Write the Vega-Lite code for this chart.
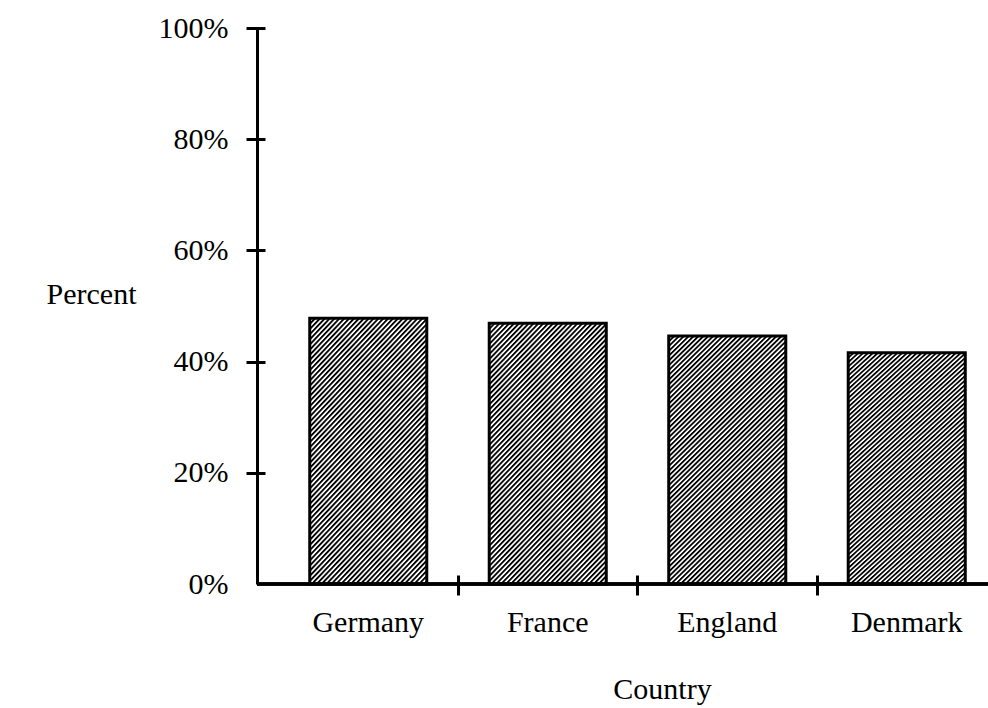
{
"$schema": "https://vega.github.io/schema/vega-lite/v6.json",
"width": 731,
"height": 556,
"autosize": {"type": "none"},
"padding": {"left": 257, "top": 28, "right": 0, "bottom": 124},
"background": "white",
"config": {"view": {"stroke": null}, "font": "Liberation Serif"},
"data": {"values": [
 {"country": "Germany", "percent": 47.8},
 {"country": "France", "percent": 46.9},
 {"country": "England", "percent": 44.6},
 {"country": "Denmark", "percent": 41.6}
]},
"layer": [
 {
  "mark": {"type": "bar", "stroke": "black", "strokeWidth": 3, "width": {"band": 0.652},
   "fill": {"gradient": "linear", "x1": 0, "y1": 0, "x2": 0.591, "y2": 1.273, "stops": [
{"offset":0,"color":"#000"},{"offset":0.003,"color":"#000"},{"offset":0.007,"color":"#fff"},{"offset":0.0095,"color":"#fff"},
{"offset":0.0125,"color":"#000"},{"offset":0.0155,"color":"#000"},{"offset":0.0195,"color":"#fff"},{"offset":0.022,"color":"#fff"},
{"offset":0.025,"color":"#000"},{"offset":0.028,"color":"#000"},{"offset":0.032,"color":"#fff"},{"offset":0.0345,"color":"#fff"},
{"offset":0.0375,"color":"#000"},{"offset":0.0405,"color":"#000"},{"offset":0.0445,"color":"#fff"},{"offset":0.047,"color":"#fff"},
{"offset":0.05,"color":"#000"},{"offset":0.053,"color":"#000"},{"offset":0.057,"color":"#fff"},{"offset":0.0595,"color":"#fff"},
{"offset":0.0625,"color":"#000"},{"offset":0.0655,"color":"#000"},{"offset":0.0695,"color":"#fff"},{"offset":0.072,"color":"#fff"},
{"offset":0.075,"color":"#000"},{"offset":0.078,"color":"#000"},{"offset":0.082,"color":"#fff"},{"offset":0.0845,"color":"#fff"},
{"offset":0.0875,"color":"#000"},{"offset":0.0905,"color":"#000"},{"offset":0.0945,"color":"#fff"},{"offset":0.097,"color":"#fff"},
{"offset":0.1,"color":"#000"},{"offset":0.103,"color":"#000"},{"offset":0.107,"color":"#fff"},{"offset":0.1095,"color":"#fff"},
{"offset":0.1125,"color":"#000"},{"offset":0.1155,"color":"#000"},{"offset":0.1195,"color":"#fff"},{"offset":0.122,"color":"#fff"},
{"offset":0.125,"color":"#000"},{"offset":0.128,"color":"#000"},{"offset":0.132,"color":"#fff"},{"offset":0.1345,"color":"#fff"},
{"offset":0.1375,"color":"#000"},{"offset":0.1405,"color":"#000"},{"offset":0.1445,"color":"#fff"},{"offset":0.147,"color":"#fff"},
{"offset":0.15,"color":"#000"},{"offset":0.153,"color":"#000"},{"offset":0.157,"color":"#fff"},{"offset":0.1595,"color":"#fff"},
{"offset":0.1625,"color":"#000"},{"offset":0.1655,"color":"#000"},{"offset":0.1695,"color":"#fff"},{"offset":0.172,"color":"#fff"},
{"offset":0.175,"color":"#000"},{"offset":0.178,"color":"#000"},{"offset":0.182,"color":"#fff"},{"offset":0.1845,"color":"#fff"},
{"offset":0.1875,"color":"#000"},{"offset":0.1905,"color":"#000"},{"offset":0.1945,"color":"#fff"},{"offset":0.197,"color":"#fff"},
{"offset":0.2,"color":"#000"},{"offset":0.203,"color":"#000"},{"offset":0.207,"color":"#fff"},{"offset":0.2095,"color":"#fff"},
{"offset":0.2125,"color":"#000"},{"offset":0.2155,"color":"#000"},{"offset":0.2195,"color":"#fff"},{"offset":0.222,"color":"#fff"},
{"offset":0.225,"color":"#000"},{"offset":0.228,"color":"#000"},{"offset":0.232,"color":"#fff"},{"offset":0.2345,"color":"#fff"},
{"offset":0.2375,"color":"#000"},{"offset":0.2405,"color":"#000"},{"offset":0.2445,"color":"#fff"},{"offset":0.247,"color":"#fff"},
{"offset":0.25,"color":"#000"},{"offset":0.253,"color":"#000"},{"offset":0.257,"color":"#fff"},{"offset":0.2595,"color":"#fff"},
{"offset":0.2625,"color":"#000"},{"offset":0.2655,"color":"#000"},{"offset":0.2695,"color":"#fff"},{"offset":0.272,"color":"#fff"},
{"offset":0.275,"color":"#000"},{"offset":0.278,"color":"#000"},{"offset":0.282,"color":"#fff"},{"offset":0.2845,"color":"#fff"},
{"offset":0.2875,"color":"#000"},{"offset":0.2905,"color":"#000"},{"offset":0.2945,"color":"#fff"},{"offset":0.297,"color":"#fff"},
{"offset":0.3,"color":"#000"},{"offset":0.303,"color":"#000"},{"offset":0.307,"color":"#fff"},{"offset":0.3095,"color":"#fff"},
{"offset":0.3125,"color":"#000"},{"offset":0.3155,"color":"#000"},{"offset":0.3195,"color":"#fff"},{"offset":0.322,"color":"#fff"},
{"offset":0.325,"color":"#000"},{"offset":0.328,"color":"#000"},{"offset":0.332,"color":"#fff"},{"offset":0.3345,"color":"#fff"},
{"offset":0.3375,"color":"#000"},{"offset":0.3405,"color":"#000"},{"offset":0.3445,"color":"#fff"},{"offset":0.347,"color":"#fff"},
{"offset":0.35,"color":"#000"},{"offset":0.353,"color":"#000"},{"offset":0.357,"color":"#fff"},{"offset":0.3595,"color":"#fff"},
{"offset":0.3625,"color":"#000"},{"offset":0.3655,"color":"#000"},{"offset":0.3695,"color":"#fff"},{"offset":0.372,"color":"#fff"},
{"offset":0.375,"color":"#000"},{"offset":0.378,"color":"#000"},{"offset":0.382,"color":"#fff"},{"offset":0.3845,"color":"#fff"},
{"offset":0.3875,"color":"#000"},{"offset":0.3905,"color":"#000"},{"offset":0.3945,"color":"#fff"},{"offset":0.397,"color":"#fff"},
{"offset":0.4,"color":"#000"},{"offset":0.403,"color":"#000"},{"offset":0.407,"color":"#fff"},{"offset":0.4095,"color":"#fff"},
{"offset":0.4125,"color":"#000"},{"offset":0.4155,"color":"#000"},{"offset":0.4195,"color":"#fff"},{"offset":0.422,"color":"#fff"},
{"offset":0.425,"color":"#000"},{"offset":0.428,"color":"#000"},{"offset":0.432,"color":"#fff"},{"offset":0.4345,"color":"#fff"},
{"offset":0.4375,"color":"#000"},{"offset":0.4405,"color":"#000"},{"offset":0.4445,"color":"#fff"},{"offset":0.447,"color":"#fff"},
{"offset":0.45,"color":"#000"},{"offset":0.453,"color":"#000"},{"offset":0.457,"color":"#fff"},{"offset":0.4595,"color":"#fff"},
{"offset":0.4625,"color":"#000"},{"offset":0.4655,"color":"#000"},{"offset":0.4695,"color":"#fff"},{"offset":0.472,"color":"#fff"},
{"offset":0.475,"color":"#000"},{"offset":0.478,"color":"#000"},{"offset":0.482,"color":"#fff"},{"offset":0.4845,"color":"#fff"},
{"offset":0.4875,"color":"#000"},{"offset":0.4905,"color":"#000"},{"offset":0.4945,"color":"#fff"},{"offset":0.497,"color":"#fff"},
{"offset":0.5,"color":"#000"},{"offset":0.503,"color":"#000"},{"offset":0.507,"color":"#fff"},{"offset":0.5095,"color":"#fff"},
{"offset":0.5125,"color":"#000"},{"offset":0.5155,"color":"#000"},{"offset":0.5195,"color":"#fff"},{"offset":0.522,"color":"#fff"},
{"offset":0.525,"color":"#000"},{"offset":0.528,"color":"#000"},{"offset":0.532,"color":"#fff"},{"offset":0.5345,"color":"#fff"},
{"offset":0.5375,"color":"#000"},{"offset":0.5405,"color":"#000"},{"offset":0.5445,"color":"#fff"},{"offset":0.547,"color":"#fff"},
{"offset":0.55,"color":"#000"},{"offset":0.553,"color":"#000"},{"offset":0.557,"color":"#fff"},{"offset":0.5595,"color":"#fff"},
{"offset":0.5625,"color":"#000"},{"offset":0.5655,"color":"#000"},{"offset":0.5695,"color":"#fff"},{"offset":0.572,"color":"#fff"},
{"offset":0.575,"color":"#000"},{"offset":0.578,"color":"#000"},{"offset":0.582,"color":"#fff"},{"offset":0.5845,"color":"#fff"},
{"offset":0.5875,"color":"#000"},{"offset":0.5905,"color":"#000"},{"offset":0.5945,"color":"#fff"},{"offset":0.597,"color":"#fff"},
{"offset":0.6,"color":"#000"},{"offset":0.603,"color":"#000"},{"offset":0.607,"color":"#fff"},{"offset":0.6095,"color":"#fff"},
{"offset":0.6125,"color":"#000"},{"offset":0.6155,"color":"#000"},{"offset":0.6195,"color":"#fff"},{"offset":0.622,"color":"#fff"},
{"offset":0.625,"color":"#000"},{"offset":0.628,"color":"#000"},{"offset":0.632,"color":"#fff"},{"offset":0.6345,"color":"#fff"},
{"offset":0.6375,"color":"#000"},{"offset":0.6405,"color":"#000"},{"offset":0.6445,"color":"#fff"},{"offset":0.647,"color":"#fff"},
{"offset":0.65,"color":"#000"},{"offset":0.653,"color":"#000"},{"offset":0.657,"color":"#fff"},{"offset":0.6595,"color":"#fff"},
{"offset":0.6625,"color":"#000"},{"offset":0.6655,"color":"#000"},{"offset":0.6695,"color":"#fff"},{"offset":0.672,"color":"#fff"},
{"offset":0.675,"color":"#000"},{"offset":0.678,"color":"#000"},{"offset":0.682,"color":"#fff"},{"offset":0.6845,"color":"#fff"},
{"offset":0.6875,"color":"#000"},{"offset":0.6905,"color":"#000"},{"offset":0.6945,"color":"#fff"},{"offset":0.697,"color":"#fff"},
{"offset":0.7,"color":"#000"},{"offset":0.703,"color":"#000"},{"offset":0.707,"color":"#fff"},{"offset":0.7095,"color":"#fff"},
{"offset":0.7125,"color":"#000"},{"offset":0.7155,"color":"#000"},{"offset":0.7195,"color":"#fff"},{"offset":0.722,"color":"#fff"},
{"offset":0.725,"color":"#000"},{"offset":0.728,"color":"#000"},{"offset":0.732,"color":"#fff"},{"offset":0.7345,"color":"#fff"},
{"offset":0.7375,"color":"#000"},{"offset":0.7405,"color":"#000"},{"offset":0.7445,"color":"#fff"},{"offset":0.747,"color":"#fff"},
{"offset":0.75,"color":"#000"},{"offset":0.753,"color":"#000"},{"offset":0.757,"color":"#fff"},{"offset":0.7595,"color":"#fff"},
{"offset":0.7625,"color":"#000"},{"offset":0.7655,"color":"#000"},{"offset":0.7695,"color":"#fff"},{"offset":0.772,"color":"#fff"},
{"offset":0.775,"color":"#000"},{"offset":0.778,"color":"#000"},{"offset":0.782,"color":"#fff"},{"offset":0.7845,"color":"#fff"},
{"offset":0.7875,"color":"#000"},{"offset":0.7905,"color":"#000"},{"offset":0.7945,"color":"#fff"},{"offset":0.797,"color":"#fff"},
{"offset":0.8,"color":"#000"},{"offset":0.803,"color":"#000"},{"offset":0.807,"color":"#fff"},{"offset":0.8095,"color":"#fff"},
{"offset":0.8125,"color":"#000"},{"offset":0.8155,"color":"#000"},{"offset":0.8195,"color":"#fff"},{"offset":0.822,"color":"#fff"},
{"offset":0.825,"color":"#000"},{"offset":0.828,"color":"#000"},{"offset":0.832,"color":"#fff"},{"offset":0.8345,"color":"#fff"},
{"offset":0.8375,"color":"#000"},{"offset":0.8405,"color":"#000"},{"offset":0.8445,"color":"#fff"},{"offset":0.847,"color":"#fff"},
{"offset":0.85,"color":"#000"},{"offset":0.853,"color":"#000"},{"offset":0.857,"color":"#fff"},{"offset":0.8595,"color":"#fff"},
{"offset":0.8625,"color":"#000"},{"offset":0.8655,"color":"#000"},{"offset":0.8695,"color":"#fff"},{"offset":0.872,"color":"#fff"},
{"offset":0.875,"color":"#000"},{"offset":0.878,"color":"#000"},{"offset":0.882,"color":"#fff"},{"offset":0.8845,"color":"#fff"},
{"offset":0.8875,"color":"#000"},{"offset":0.8905,"color":"#000"},{"offset":0.8945,"color":"#fff"},{"offset":0.897,"color":"#fff"},
{"offset":0.9,"color":"#000"},{"offset":0.903,"color":"#000"},{"offset":0.907,"color":"#fff"},{"offset":0.9095,"color":"#fff"},
{"offset":0.9125,"color":"#000"},{"offset":0.9155,"color":"#000"},{"offset":0.9195,"color":"#fff"},{"offset":0.922,"color":"#fff"},
{"offset":0.925,"color":"#000"},{"offset":0.928,"color":"#000"},{"offset":0.932,"color":"#fff"},{"offset":0.9345,"color":"#fff"},
{"offset":0.9375,"color":"#000"},{"offset":0.9405,"color":"#000"},{"offset":0.9445,"color":"#fff"},{"offset":0.947,"color":"#fff"},
{"offset":0.95,"color":"#000"},{"offset":0.953,"color":"#000"},{"offset":0.957,"color":"#fff"},{"offset":0.9595,"color":"#fff"},
{"offset":0.9625,"color":"#000"},{"offset":0.9655,"color":"#000"},{"offset":0.9695,"color":"#fff"},{"offset":0.972,"color":"#fff"},
{"offset":0.975,"color":"#000"},{"offset":0.978,"color":"#000"},{"offset":0.982,"color":"#fff"},{"offset":0.9845,"color":"#fff"},
{"offset":0.9875,"color":"#000"},{"offset":0.9905,"color":"#000"},{"offset":0.9945,"color":"#fff"},{"offset":1,"color":"#fff"}
   ]}},
  "encoding": {
   "x": {"field": "country", "type": "nominal", "sort": null,
    "scale": {"type": "band", "range": [21.5, 739.5], "paddingInner": 0, "paddingOuter": 0},
    "axis": {"orient": "bottom", "ticks": false, "tickSize": 0, "domain": false, "grid": false,
     "labelAngle": 0, "labelPadding": 47, "labelBaseline": "alphabetic", "labelFontSize": 30, "labelFont": "Liberation Serif", "labelColor": "black",
     "title": "Country", "titleX": 405, "titleY": 114, "titleAlign": "center", "titleBaseline": "alphabetic",
     "titleFontSize": 30, "titleFont": "Liberation Serif", "titleFontWeight": "normal", "titleColor": "black"}},
   "y": {"field": "percent", "type": "quantitative",
    "scale": {"domain": [0, 100], "nice": false, "zero": true},
    "axis": {"orient": "left", "values": [0, 20, 40, 60, 80, 100], "labelExpr": "datum.value + '%'",
     "ticks": false, "tickSize": 0, "labelPadding": 29, "labelFontSize": 30, "labelFont": "Liberation Serif", "labelColor": "black",
     "domain": true, "domainColor": "black", "domainWidth": 3, "grid": false,
     "title": "Percent", "titleAngle": 0, "titleX": -166, "titleY": 275, "titleAlign": "center", "titleBaseline": "alphabetic",
     "titleFontSize": 30, "titleFont": "Liberation Serif", "titleFontWeight": "normal", "titleColor": "black"}}
  }
 },
 {
  "mark": {"type": "rule", "color": "black", "strokeWidth": 3},
  "encoding": {"y": {"datum": 0, "type": "quantitative", "axis": null}}
 },
 {
  "mark": {"type": "bar", "opacity": 0, "width": {"band": 0.652}},
  "encoding": {
   "x": {"field": "country", "type": "nominal", "sort": null,
    "axis": {"orient": "bottom", "values": ["France", "England", "Denmark"], "bandPosition": 0,
     "labels": false, "domain": false, "grid": false, "ticks": true, "tickSize": 20, "tickWidth": 3, "tickColor": "black",
     "offset": -9, "title": null}},
   "y": {"field": "percent", "type": "quantitative",
    "axis": {"orient": "left", "values": [20, 40, 60, 80, 100], "labels": false, "domain": false, "grid": false,
     "ticks": true, "tickSize": 19, "tickWidth": 3, "tickColor": "black", "offset": -8, "title": null}}
  }
 }
],
"resolve": {"axis": {"x": "independent", "y": "independent"}}
}
